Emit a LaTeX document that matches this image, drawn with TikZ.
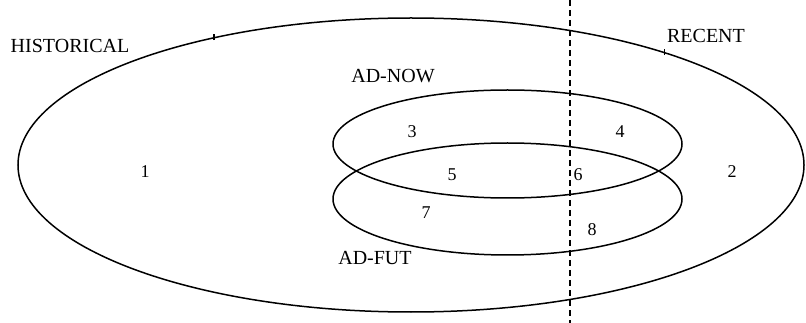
\documentclass[tikz,border=0pt]{standalone}
\usepackage{fontspec}
\setmainfont{Liberation Serif}
\usetikzlibrary{shapes.geometric}

\begin{document}
\begin{tikzpicture}[x=1pt,y=-1pt,every node/.style={font=\fontsize{18}{20}\selectfont},region/.style={draw,ellipse,line width=1.5pt,inner sep=0pt},tag/.style={font=\fontsize{20}{22}\selectfont},cutline/.style={line width=1.4pt,dash pattern=on 6pt off 4pt}]
\useasboundingbox (0,0) rectangle (806,323);
\node[region,minimum width=786,minimum height=294] (all) at (411,165) {}; \node[region,minimum width=349,minimum height=108] (adnow) at (507.5,144) {}; \node[region,minimum width=349,minimum height=112] (adfut) at (507.5,199) {};
\coordinate (cuttop) at (570,0); \coordinate (cutbot) at (570,323);
\draw[cutline] (cuttop) -- (cutbot);
\draw[line width=1.2pt] ([yshift=-3pt]all.147) -- ([yshift=3pt]all.147); \draw[line width=1.2pt] ([yshift=-3pt]all.24) -- ([yshift=3pt]all.24);
\node[tag] (lhist) at (70,46) {HISTORICAL}; \node[tag] (lrecent) at (706,36) {RECENT}; \node[tag] (lnow) at (393,76) {AD-NOW}; \node[tag] (lfut) at (375,258) {AD-FUT};
\node (r1) at (145,172) {1}; \node (r2) at (732,172) {2}; \node (r3) at (412,132) {3}; \node (r4) at (620,132) {4};
\node (r5) at (452,175) {5}; \node (r6) at (578,175) {6}; \node (r7) at (426,213) {7}; \node (r8) at (592,230) {8};
\end{tikzpicture}
\end{document}
